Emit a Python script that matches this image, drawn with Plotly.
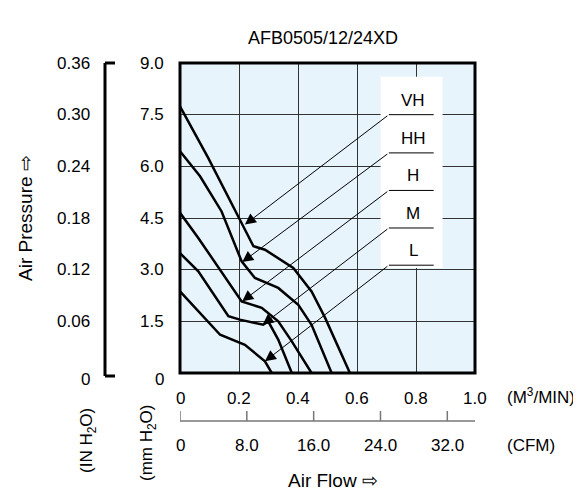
import plotly.graph_objects as go

vh_x = [0, 0.096, 0.203, 0.249, 0.288, 0.384, 0.446, 0.492, 0.576]
vh_y = [7.74, 6.24, 4.45, 3.68, 3.58, 3.05, 2.37, 1.6, 0]
hh_x = [0, 0.068, 0.141, 0.209, 0.254, 0.333, 0.401, 0.446, 0.514]
hh_y = [6.44, 5.71, 4.69, 3.24, 2.76, 2.47, 1.98, 1.40, 0]
h_x = [0, 0.062, 0.209, 0.277, 0.333, 0.379, 0.446]
h_y = [4.65, 3.92, 2.08, 1.89, 1.50, 0.92, 0]
m_x = [0, 0.062, 0.164, 0.203, 0.282, 0.299, 0.333, 0.379]
m_y = [3.48, 2.95, 1.65, 1.55, 1.40, 1.50, 0.97, 0]
l_x = [0, 0.062, 0.136, 0.220, 0.288, 0.311]
l_y = [2.37, 1.79, 1.11, 0.82, 0.34, 0]

labels = ["VH", "HH", "H", "M", "L"]
label_y = [7.5, 6.39, 5.30, 4.21, 3.13]
tip_x = [0.22, 0.211, 0.211, 0.28, 0.288]
tip_y = [4.31, 3.22, 2.08, 1.40, 0.34]

mm_ticks = [0, 1.5, 3.0, 4.5, 6.0, 7.5, 9.0]
mm_text = ["0", "1.5", "3.0", "4.5", "6.0", "7.5", "9.0"]
in_text = ["0", "0.06", "0.12", "0.18", "0.24", "0.30", "0.36"]
m3_ticks = [0, 0.2, 0.4, 0.6, 0.8, 1.0]
m3_text = ["0", "0.2", "0.4", "0.6", "0.8", "1.0"]
cfm_ticks = [0, 8.0, 16.0, 24.0, 32.0]
cfm_text = ["0", "8.0", "16.0", "24.0", "32.0"]

FONT = "Liberation Sans, Arial, sans-serif"
W, H = 581, 503
L, R, T, B = 172, 467, 55, 365
def px(x): return (x - L) / (R - L)
def py(y): return (B - y) / (B - T)

fig = go.Figure()
for xs, ys in [(vh_x, vh_y), (hh_x, hh_y), (h_x, h_y), (m_x, m_y), (l_x, l_y)]:
    fig.add_trace(go.Scatter(x=xs, y=ys, mode="lines", line=dict(color="black", width=2.5),
                             showlegend=False, hoverinfo="skip"))

shapes = []
ann = []
def txt(x, y, t, size=17, xa="center", ya="middle", angle=0, xref="paper"):
    ann.append(dict(x=x, y=y, xref=xref, yref="paper", text=t, showarrow=False,
                    xanchor=xa, yanchor=ya, textangle=angle,
                    font=dict(size=size, color="black", family=FONT)))

shapes.append(dict(type="rect", xref="x", yref="y", x0=0.68, x1=0.89, y0=3.05, y1=8.6,
                   fillcolor="white", line=dict(width=0), layer="between"))
for lab, ly, tx, ty in zip(labels, label_y, tip_x, tip_y):
    shapes.append(dict(type="line", xref="x", yref="y", x0=0.708, x1=0.86, y0=ly, y1=ly,
                       line=dict(color="black", width=1)))
    ann.append(dict(x=tx, y=ty, ax=0.708, ay=ly, xref="x", yref="y", axref="x", ayref="y",
                    text="", showarrow=True, arrowhead=2, arrowsize=2.2, arrowwidth=1,
                    arrowcolor="black"))
    ann.append(dict(x=0.79, y=ly, xref="x", yref="y", text=lab, showarrow=False,
                    xanchor="center", yanchor="bottom", yshift=3,
                    font=dict(size=17, color="black", family=FONT)))

shapes.append(dict(type="rect", xref="paper", yref="paper", x0=0, x1=1, y0=0, y1=1,
                   line=dict(color="black", width=3)))
ox = px(97)
shapes.append(dict(type="line", xref="paper", yref="paper", x0=ox, x1=ox, y0=py(368), y1=py(55),
                   line=dict(color="black", width=3)))
for yy in (py(368), py(55)):
    shapes.append(dict(type="line", xref="paper", yref="paper", x0=ox, x1=px(107), y0=yy, y1=yy,
                       line=dict(color="black", width=3)))
for v, t in zip(mm_ticks, in_text):
    yy = v / 9 if v > 0 else py(372)
    txt(px(84), yy, t, xa="right")

cfm_scale = 0.0283168
rly = py(413)
shapes.append(dict(type="line", xref="paper", yref="paper", x0=0, x1=1, y0=rly, y1=rly,
                   line=dict(color="#777", width=1.5)))
for v, t in zip(cfm_ticks, cfm_text):
    xx = v * cfm_scale
    shapes.append(dict(type="line", xref="x", yref="paper", x0=xx, x1=xx, y0=rly, y1=py(403),
                       line=dict(color="#777", width=1.5)))
    txt(xx, py(437), t, xref="x")
for v, t in zip(m3_ticks, m3_text):
    txt(v, py(390), t, xref="x")
for v, t in zip(mm_ticks, mm_text):
    txt(px(158), v / 9 if v > 0 else py(372), t, xa="right")

txt(px(315), py(30), "AFB0505/12/24XD", size=18)
txt(px(497), py(388), "(M<sup>3</sup>/MIN)", xa="left")
txt(px(497), py(437), "(CFM)", xa="left")
txt(px(325), py(472), "Air Flow ⇨", size=19)
txt(px(17), py(210), "Air Pressure ⇨", size=19, angle=-90)
txt(px(80), py(433), "(IN H<sub>2</sub>O)", angle=-90)
txt(px(140), py(435), "(mm H<sub>2</sub>O)", angle=-90)

fig.update_layout(
    width=W, height=H, margin=dict(l=L, r=W - R, t=T, b=H - B),
    paper_bgcolor="white", plot_bgcolor="#e8f4fc",
    shapes=shapes, annotations=ann,
    xaxis=dict(range=[0, 1], tickvals=m3_ticks, showticklabels=False, showgrid=True,
               gridcolor="#333", gridwidth=1, zeroline=False, ticks="", fixedrange=True),
    yaxis=dict(range=[0, 9], tickvals=mm_ticks, showticklabels=False, showgrid=True,
               gridcolor="#333", gridwidth=1, zeroline=False, ticks="", fixedrange=True),
)
fig.write_html("out.html")
